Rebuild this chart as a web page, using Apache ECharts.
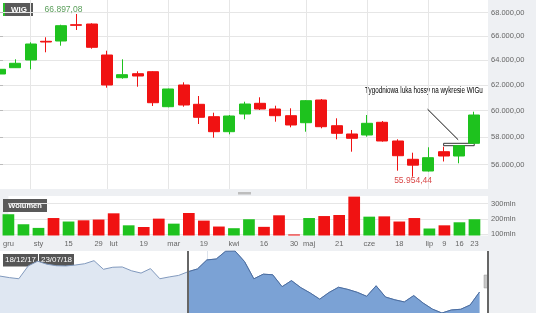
<!DOCTYPE html>
<html><head><meta charset="utf-8">
<script src="https://cdn.jsdelivr.net/npm/echarts@6/dist/echarts.min.js"></script>
<style>html,body{margin:0;padding:0;background:#eef0f3;overflow:hidden}#c{width:536px;height:313px}</style>
</head><body><div id="c"></div>
<script>
// Weekly WIG candles, 18/12/2017 .. 23/07/2018 (index 0..31)
const opens  = [62864, 63372, 63998, 65546, 65571, 66950, 67010, 64408, 62567, 62888, 63049, 60292, 61987, 60477, 59527, 58397, 59732, 60554, 60115, 59603, 59072, 60810, 58846, 58226, 58151, 59103, 57708, 56374, 55537, 56924, 56612, 57538];
const closes = [63242, 63730, 65320, 65487, 66865, 66897.08, 65045, 61987, 62808, 62703, 60600, 61671, 60423, 59481, 58397, 59580, 60500, 60115, 59603, 58899, 60756, 58771, 58277, 57907, 59027, 57708, 56633, 55954.44, 56489, 56612, 57362, 59656];
const highs  = [63428, 64055, 65462, 65882, 66950, 67873, 67070, 64763, 64055, 63081, 63100, 61700, 62201, 61121, 59832, 59656, 60678, 61020, 60369, 60169, 60810, 60887, 59405, 58524, 59656, 59200, 57833, 56851, 57245, 57289, 57362, 59908];
const lows   = [62784, 63347, 63242, 64632, 65178, 66499, 64929, 61774, 62487, 61852, 60346, 60245, 60292, 58974, 57951, 58203, 59329, 60038, 59148, 58726, 58397, 58651, 57833, 56924, 58025, 57658, 55559, 55135, 55500, 56216, 56087, 57538];
const volumes = [230, 164, 140, 205, 182, 190, 195, 236, 157, 146, 201, 168, 238, 188, 149, 138, 197, 147, 223, 97, 205, 218, 225, 346, 214, 216, 182, 205, 136, 157, 177, 197];
// navigator: weekly closes before the visible range (31/07/2017 .. 11/12/2017)
const navEarlyCloses = [62470, 62200, 62000, 64260, 65100, 64560, 64300, 64260, 64420, 64650, 65190, 63670, 64030, 64080, 63400, 63000, 63790, 62000, 62320, 62590];

const xLabelIdx = [0, 2, 4, 6, 7, 9, 11, 13, 15, 17, 19, 20, 22, 24, 26, 28, 29, 30, 31];
const xLabels = ['gru', 'sty', '15', '29', 'lut', '19', 'mar', '19', 'kwi', '16', '30', 'maj', '21', 'cze', '18', 'lip', '9', '16', '23'];
const monthStartIdx = [2, 7, 11, 15, 20, 24, 28];
const priceTicks = [56000, 58000, 60000, 62000, 64000, 66000, 68000];
const volTicks = [100, 200, 300];
const navYearIdx = [-20, 2];
const navYearLabels = ['2017', '2018'];
const rangeLabels = ['18/12/17', '23/07/18'];
const seriesName = 'WIG';
const volumeName = 'Wolumen';
const annotationText = 'Tygodniowa luka hossy na wykresie WIGu';
const arrowFrom = [27.95, 60100];
const arrowTo = [29.95, 57800];

const FONT = '"Liberation Sans", Arial, sans-serif';
const UP = '#1ec21e', DOWN = '#f01212';
const XMAX = 31.9;
const fmtPL = v => { const s = Number(v).toFixed(2).split('.'); return s[0].replace(/\B(?=(\d{3})+$)/g, '.') + ',' + s[1]; };

const candleData = closes.map((c, i) => [i, opens[i], c, lows[i], highs[i]]);
const volData = volumes.map((v, i) => ({ value: [i, v], itemStyle: { color: closes[i] >= opens[i] ? UP : DOWN } }));
const navAll = navEarlyCloses.concat(closes).map((c, i) => [i - navEarlyCloses.length, c]);
const navSel = closes.map((c, i) => [i, c]);
let maxI = 0, minI = 0;
closes.forEach((c, i) => { if (c > closes[maxI]) maxI = i; if (c < closes[minI]) minI = i; });

const chart = echarts.init(document.getElementById('c'), null, { renderer: 'canvas' });
chart.setOption({
  animation: false,
  backgroundColor: '#eef0f3',
  textStyle: { fontFamily: FONT },
  grid: [
    { left: 0, top: 0, width: 488, height: 189, show: true, backgroundColor: '#fff', borderWidth: 0 },
    { left: 0, top: 196, width: 488, height: 39.5, show: true, backgroundColor: '#fff', borderWidth: 0 },
    { left: 0, top: 251, width: 488, height: 62, show: true, backgroundColor: '#fff', borderWidth: 0 }
  ],
  xAxis: [
    { gridIndex: 0, type: 'value', min: 0, max: XMAX, axisLine: { show: false },
      axisTick: { show: false, customValues: monthStartIdx }, axisLabel: { show: false },
      splitLine: { show: true, lineStyle: { color: '#e6e6e6', width: 1 } } },
    { gridIndex: 1, type: 'value', min: 0, max: XMAX, axisLine: { show: false }, axisTick: { show: false },
      splitLine: { show: false },
      axisLabel: { customValues: xLabelIdx, formatter: v => xLabels[xLabelIdx.indexOf(Math.round(v))], fontSize: 7.5, color: '#666', margin: 4, fontFamily: FONT } },
    { gridIndex: 2, type: 'value', min: -navEarlyCloses.length, max: XMAX, axisLine: { show: false },
      axisTick: { show: false, customValues: [2] },
      splitLine: { show: true, lineStyle: { color: '#dde3ec', width: 1 } },
      axisLabel: { inside: true, customValues: navYearIdx, formatter: v => navYearLabels[navYearIdx.indexOf(Math.round(v))], align: 'left', padding: [0, 0, 0, 3], fontSize: 7.5, color: '#777', margin: 3, fontFamily: FONT } }
  ],
  yAxis: [
    { gridIndex: 0, type: 'log', logBase: 10, min: 54275, max: 69097, position: 'right',
      axisLine: { show: false },
      axisTick: { show: true, customValues: priceTicks, length: 3, lineStyle: { color: '#bbb' } },
      axisLabel: { customValues: priceTicks, formatter: fmtPL, fontSize: 7.5, color: '#666', margin: 3, fontFamily: FONT },
      splitLine: { show: true, lineStyle: { color: '#e6e6e6' } } },
    { gridIndex: 1, type: 'value', min: 90, max: 350, position: 'right',
      axisLine: { show: false },
      axisTick: { show: true, customValues: volTicks, length: 3, lineStyle: { color: '#bbb' } },
      axisLabel: { customValues: volTicks, formatter: v => v + 'mln', fontSize: 7.5, color: '#666', margin: 3, fontFamily: FONT },
      splitLine: { show: true, lineStyle: { color: '#e6e6e6' } } },
    { gridIndex: 2, type: 'value', min: v => v.min, max: v => v.max, show: false }
  ],
  series: [
    { type: 'candlestick', name: seriesName, xAxisIndex: 0, yAxisIndex: 0, data: candleData, barWidth: 11.5,
      itemStyle: { color: UP, color0: DOWN, borderColor: UP, borderColor0: DOWN, borderWidth: 1 },
      markPoint: { symbol: 'rect', symbolSize: 1, itemStyle: { color: 'transparent' }, silent: true,
        data: [
          { coord: [maxI, closes[maxI]], label: { show: true, position: 'inside', formatter: fmtPL(closes[maxI]), color: '#5b9f5b', fontSize: 8.5, offset: [-13, -16] } },
          { coord: [minI, closes[minI]], label: { show: true, position: 'inside', formatter: fmtPL(closes[minI]), color: '#d94a4a', fontSize: 8.5, offset: [0, 16] } }
        ] },
      markLine: { symbol: 'none', silent: true, label: { show: false }, lineStyle: { color: '#111', width: 1, type: 'solid' },
        data: [[{ coord: arrowFrom }, { coord: arrowTo }]] },
      markArea: { silent: true, itemStyle: { color: '#fff', borderColor: '#333', borderWidth: 1 },
        data: [[{ coord: [29, highs[30]] }, { coord: [31, lows[31]] }]] }
    },
    { type: 'bar', name: volumeName, xAxisIndex: 1, yAxisIndex: 1, data: volData, barWidth: 11.7 },
    { type: 'line', xAxisIndex: 2, yAxisIndex: 2, data: navAll, symbol: 'none', silent: true,
      lineStyle: { color: '#8199bd', width: 1 }, areaStyle: { color: '#dfe7f2', opacity: 1 } },
    { type: 'line', xAxisIndex: 2, yAxisIndex: 2, data: navSel, symbol: 'none', silent: true,
      lineStyle: { color: '#4a6ea3', width: 1 }, areaStyle: { color: '#7ba2d5', opacity: 1 },
      markLine: { symbol: 'none', silent: true, label: { show: false }, lineStyle: { color: '#666', width: 2, type: 'solid' },
        data: [{ xAxis: 0 }, { xAxis: XMAX }] } }
  ],
  graphic: [
    { type: 'group', left: 3, top: 3, children: [
      { type: 'rect', shape: { x: 0, y: 0, width: 30, height: 13 }, style: { fill: '#5a5a5a' } },
      { type: 'rect', shape: { x: 0, y: 0, width: 2, height: 13 }, style: { fill: '#2ac12a' } },
      { type: 'text', x: 16, y: 6.5, style: { text: seriesName, fill: '#fff', font: 'bold 8px ' + FONT, align: 'center', verticalAlign: 'middle' } }
    ] },
    { type: 'group', left: 3, top: 199, children: [
      { type: 'rect', shape: { x: 0, y: 0, width: 44, height: 13 }, style: { fill: '#5a5a5a' } },
      { type: 'text', x: 22, y: 6.5, style: { text: volumeName, fill: '#fff', font: 'bold 7.5px ' + FONT, align: 'center', verticalAlign: 'middle' } }
    ] },
    { type: 'group', left: 3, top: 254, children: [
      { type: 'rect', shape: { x: 0, y: 0, width: 35, height: 12.5 }, style: { fill: '#555' } },
      { type: 'text', x: 17.5, y: 6.25, style: { text: rangeLabels[0], fill: '#fff', font: '8px ' + FONT, align: 'center', verticalAlign: 'middle' } },
      { type: 'rect', shape: { x: 36, y: 0, width: 35, height: 12.5 }, style: { fill: '#555' } },
      { type: 'text', x: 53.5, y: 6.25, style: { text: rangeLabels[1], fill: '#fff', font: '8px ' + FONT, align: 'center', verticalAlign: 'middle' } }
    ] },
    { type: 'text', x: 365, y: 90.5, scaleX: 0.74, style: { text: annotationText, fill: '#000', font: '8.5px ' + FONT, align: 'left', verticalAlign: 'middle' } },
    { type: 'rect', shape: { x: 188.5, y: 275, width: 4.5, height: 13 }, style: { fill: '#c8c8c8', stroke: '#999', lineWidth: 0.5 } },
    { type: 'rect', shape: { x: 484, y: 275, width: 4, height: 13 }, style: { fill: '#c8c8c8', stroke: '#999', lineWidth: 0.5 } },
    { type: 'rect', shape: { x: 238, y: 192, width: 13, height: 2.5 }, style: { fill: '#bdbdbd' } }
  ]
});
</script>
</body></html>
